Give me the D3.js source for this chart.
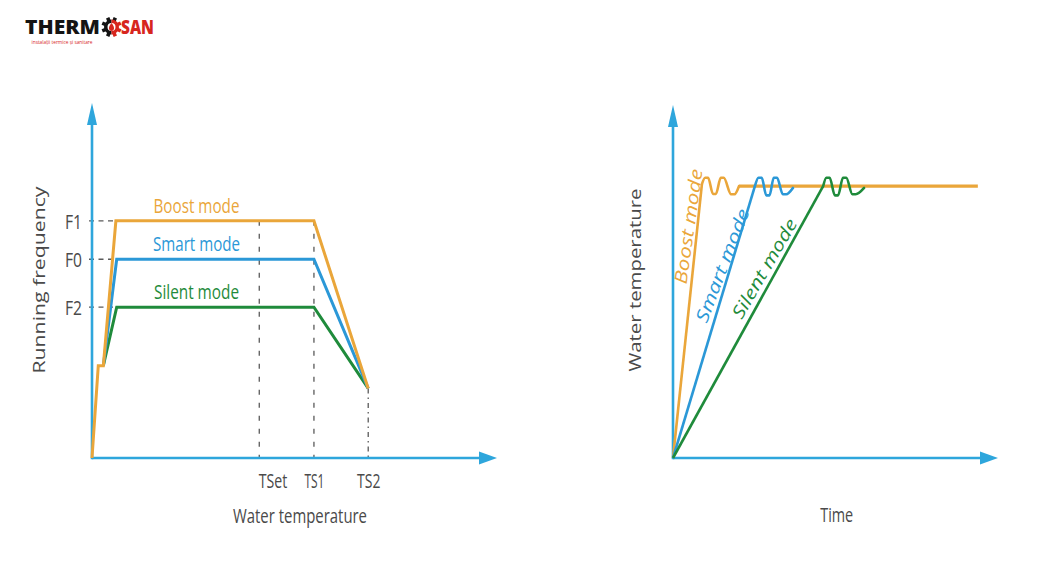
<!DOCTYPE html>
<html><head><meta charset="utf-8">
<script src="https://cdn.jsdelivr.net/npm/d3@7"></script>
<style>
body{margin:0;background:#fff}
svg{display:block}
text{font-family:"Open Sans",sans-serif}
</style>
</head><body>
<svg id="c" width="1048" height="586"></svg>
<script>
// ---------- DATA ----------
// Left chart: running frequency vs water temperature
const tempTicks = ["TSet", "TS1", "TS2"];
const tempTickValues = [41.3, 54.8, 68.2];
const freqTicks = ["F1", "F0", "F2"];
const freqTickValues = [66.8, 56.0, 42.5];
const modes = ["Boost mode", "Smart mode", "Silent mode"];

const boostFreqT  = [0, 1.55, 2.8, 5.9, 54.8, 68.2];
const boostFreqV  = [0, 26, 26, 66.8, 66.8, 19.6];
const smartFreqT  = [2.8, 6.1, 54.8, 68.2];
const smartFreqV  = [26, 56.0, 56.0, 19.6];
const silentFreqT = [2.8, 6.1, 54.8, 68.2];
const silentFreqV = [26, 42.5, 42.5, 19.6];

// Right chart: water temperature vs time
const boostRampT  = [0, 8.9];
const boostRampV  = [0, 77.6];
const boostWaveT  = [8.9, 9.9, 10.8, 12.3, 13.2, 14.7, 15.6, 17.9, 18.9, 20.3];
const boostWaveV  = [77.6, 79.4, 79.4, 74.8, 74.8, 79.4, 79.4, 74.7, 74.7, 77.0];
const boostHoldT  = [20.3, 93.8];
const boostHoldV  = [77.0, 77.0];

const smartRampT  = [0, 25.2];
const smartRampV  = [0, 77.0];
const smartWaveT  = [25.2, 26.3, 27.3, 28.7, 29.7, 31.0, 32.0, 33.8, 34.8, 36.9];
const smartWaveV  = [77.0, 79.4, 79.4, 74.4, 74.4, 79.4, 79.4, 74.7, 74.7, 76.5];

const silentRampT = [0, 46.2];
const silentRampV = [0, 77.0];
const silentWaveT = [46.2, 47.2, 48.2, 49.8, 50.8, 52.3, 53.3, 55.2, 56.2, 58.8];
const silentWaveV = [77.0, 79.4, 79.4, 74.4, 74.4, 79.4, 79.4, 74.7, 74.7, 76.5];

// ---------- STYLE ----------
const C = {axis:"#2ea6dc", boost:"#eaa63a", smart:"#2b98d7", silent:"#1f8b3b",
           text:"#4a4a4a", guide:"#5a5a5a", red:"#d7261e"};
const modeColors = [C.boost, C.smart, C.silent];

const svg = d3.select("#c");
const zip = (t, v) => t.map((d, i) => [d, v[i]]);

function arrowAxes(g, x, y) {
  const [x0, x1] = x.range(), [y0, y1] = y.range();
  g.append("line").attr("x1", x0).attr("y1", y0).attr("x2", x1 - 12).attr("y2", y0)
    .attr("stroke", C.axis).attr("stroke-width", 2.6);
  g.append("path").attr("d", `M${x1},${y0}L${x1-18},${y0-6.5}L${x1-18},${y0+6.5}Z`).attr("fill", C.axis);
  g.append("line").attr("x1", x0).attr("y1", y0 + 1.3).attr("x2", x0).attr("y2", y1 + 16)
    .attr("stroke", C.axis).attr("stroke-width", 2.6);
  g.append("path").attr("d", `M${x0},${y1}L${x0-5},${y1+22}L${x0+5},${y1+22}Z`).attr("fill", C.axis);
}

function label(g, txt, x, y, size, len, opts = {}) {
  const t = g.append("text").attr("x", 0).attr("y", 0).text(txt)
    .attr("font-size", size).attr("fill", opts.fill || C.text)
    .attr("text-anchor", opts.anchor || "middle")
    .attr("textLength", len).attr("lengthAdjust", "spacingAndGlyphs")
    .attr("transform", `translate(${x},${y})` + (opts.rotate ? ` rotate(${opts.rotate})` : ""));
  if (opts.italic) t.attr("font-style", "italic");
  if (opts.dy) t.attr("dy", opts.dy);
  if (opts.weight) t.attr("font-weight", opts.weight);
  return t;
}

// ---------- LOGO ----------
const logo = svg.append("g");
label(logo, "THERM", 25, 33.8, 20, 75, {anchor: "start", fill: "#141414", weight: 800});
label(logo, "SAN", 121, 33.8, 20, 33, {anchor: "start", fill: C.red, weight: 800});
label(logo, "instalații termice și sanitare", 31.5, 44, 5.2, 61, {anchor: "start", fill: C.red});
const gear = logo.append("g").attr("transform", "translate(111.5,27)");
d3.range(8).forEach(i => {
  const a = i * 45;
  gear.append("rect").attr("x", -1.8).attr("y", -10).attr("width", 3.6).attr("height", 4.5)
    .attr("fill", (a >= 180 || a === 0) ? "#141414" : C.red)
    .attr("transform", `rotate(${a + 22.5})`);
});
gear.append("path").attr("d", d3.arc()({innerRadius: 4, outerRadius: 7.5, startAngle: Math.PI, endAngle: 2 * Math.PI}))
  .attr("fill", "#141414");
gear.append("path").attr("d", d3.arc()({innerRadius: 4, outerRadius: 7.5, startAngle: 0, endAngle: Math.PI}))
  .attr("fill", C.red);
gear.append("path").attr("d", "M0,-4C2.5,-1 2.8,1 2.4,2.2A2.5,2.5 0 0 1 -2.4,2.2C-2.8,1 -2.5,-1 0,-4Z").attr("fill", C.red);

// ---------- LEFT CHART ----------
const xL = d3.scaleLinear().domain([0, 100]).range([92, 497]);
const yL = d3.scaleLinear().domain([0, 100]).range([458, 103]);
const gL = svg.append("g");

const plateauStart = [boostFreqT[3], smartFreqT[1], silentFreqT[1]];
freqTickValues.forEach((v, i) => {
  gL.append("line").attr("x1", xL(0) - 3).attr("x2", xL(plateauStart[i]))
    .attr("y1", yL(v)).attr("y2", yL(v))
    .attr("stroke", C.guide).attr("stroke-width", 1.4).attr("stroke-dasharray", "5,4.5");
});
const vTop = [freqTickValues[0], freqTickValues[0], boostFreqV[5]];
tempTickValues.forEach((v, i) => {
  gL.append("line").attr("x1", xL(v)).attr("x2", xL(v))
    .attr("y1", yL(vTop[i])).attr("y2", yL(0))
    .attr("stroke", C.guide).attr("stroke-width", 1.3)
    .attr("stroke-dasharray", i === 2 ? "5,4,1.5,4" : "5,8");
});

arrowAxes(gL, xL, yL);

const axB = gL.append("g").attr("transform", `translate(0,${yL(0)})`)
  .call(d3.axisBottom(xL).tickValues(tempTickValues).tickFormat((d, i) => tempTicks[i]).tickSize(0).tickPadding(15.8));
axB.select(".domain").remove();
const tLens = [28.5, 20, 23.3];
axB.selectAll("text").attr("font-size", 20).attr("fill", C.text).attr("font-family", "Open Sans")
  .attr("textLength", (d, i) => tLens[i]).attr("lengthAdjust", "spacingAndGlyphs")
  .attr("text-anchor", (d, i) => i === 0 ? "start" : "middle")
  .attr("x", (d, i) => i === 0 ? -1 : 0);

const axLft = gL.append("g").attr("transform", `translate(${xL(0)},0)`)
  .call(d3.axisLeft(yL).tickValues(freqTickValues).tickFormat((d, i) => freqTicks[i]).tickSize(0).tickPadding(10));
axLft.select(".domain").remove();
axLft.selectAll("text").attr("font-size", 20).attr("fill", C.text).attr("font-family", "Open Sans")
  .attr("textLength", 17).attr("lengthAdjust", "spacingAndGlyphs").attr("dy", "0.36em");

const lineL = d3.line().x(d => xL(d[0])).y(d => yL(d[1]));
[[silentFreqT, silentFreqV, C.silent], [smartFreqT, smartFreqV, C.smart], [boostFreqT, boostFreqV, C.boost]]
  .forEach(([t, v, col]) => {
    gL.append("path").attr("d", lineL(zip(t, v))).attr("fill", "none")
      .attr("stroke", col).attr("stroke-width", 3).attr("stroke-linejoin", "miter");
  });

const modeY = [213.3, 251, 299.3];
const modeLen = [86, 87, 85];
modes.forEach((m, i) => label(gL, m, 196.5, modeY[i], 20, modeLen[i], {fill: modeColors[i]}));

label(gL, "Water temperature", 300, 523.3, 20, 134);
label(gL, "Running frequency", 45, 280, 16.5, 187, {rotate: -90});

// ---------- RIGHT CHART ----------
const xR = d3.scaleLinear().domain([0, 100]).range([673, 998]);
const yR = d3.scaleLinear().domain([0, 100]).range([458, 105]);
const gR = svg.append("g");
arrowAxes(gR, xR, yR);

const lineR = d3.line().x(d => xR(d[0])).y(d => yR(d[1]));
const waveR = d3.line().x(d => xR(d[0])).y(d => yR(d[1])).curve(d3.curveMonotoneX);

const seriesR = [
  [boostRampT, boostRampV, boostWaveT, boostWaveV, C.boost],
  [smartRampT, smartRampV, smartWaveT, smartWaveV, C.smart],
  [silentRampT, silentRampV, silentWaveT, silentWaveV, C.silent]
];
gR.append("path").attr("d", lineR(zip(boostHoldT, boostHoldV))).attr("fill", "none")
  .attr("stroke", C.boost).attr("stroke-width", 3.2);
seriesR.forEach(([rt, rv, wt, wv, col]) => {
  gR.append("path").attr("d", lineR(zip(rt, rv))).attr("fill", "none")
    .attr("stroke", col).attr("stroke-width", 2.6);
  gR.append("path").attr("d", waveR(zip(wt, wv))).attr("fill", "none")
    .attr("stroke", col).attr("stroke-width", 2.6).attr("stroke-linecap", "round");
});

const modePos = [[688.5, 226.5, -82, 116], [722.5, 265.5, -69, 120], [764.5, 268.5, -60, 112]];
modes.forEach((m, i) => {
  const [x, y, r, len] = modePos[i];
  label(gR, m, x, y, 17.5, len, {fill: modeColors[i], rotate: r, italic: true, dy: "0.35em"});
});

label(gR, "Time", 836.7, 521.7, 20, 33);
label(gR, "Water temperature", 641, 280, 16, 183, {rotate: -90});
</script>
</body></html>
